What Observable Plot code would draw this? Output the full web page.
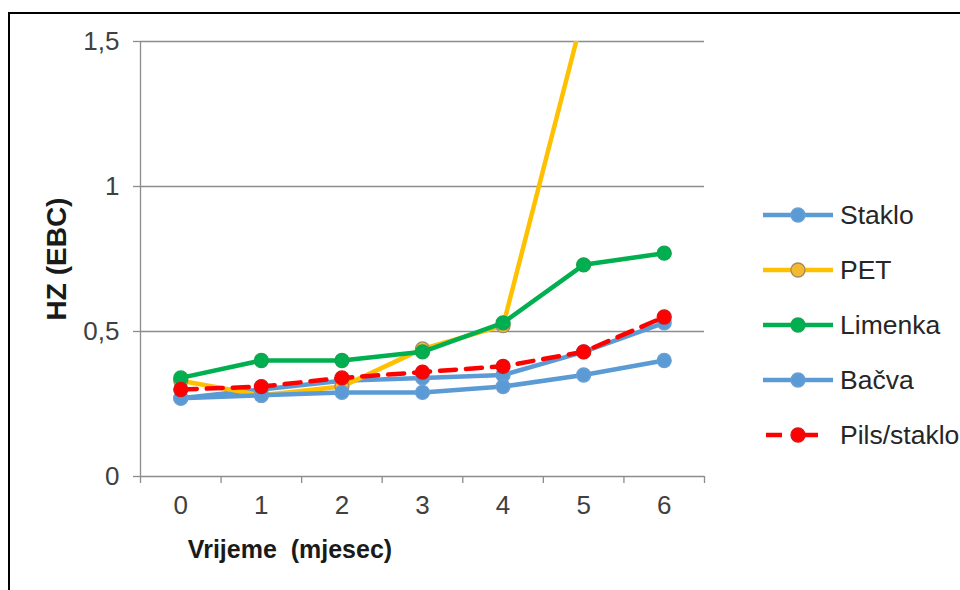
<!DOCTYPE html>
<html><head><meta charset="utf-8">
<script src="https://cdn.jsdelivr.net/npm/d3@7"></script>
<script src="https://cdn.jsdelivr.net/npm/@observablehq/plot@0.6"></script>
<style>
html,body{margin:0;padding:0;background:#fff;overflow:hidden;}
#wrap{position:relative;width:960px;height:590px;overflow:hidden;font-family:"Liberation Sans",Arial,sans-serif;background:#fff;}
#frame{position:absolute;left:8px;top:12px;width:990px;height:620px;border:2px solid #000;box-sizing:border-box;pointer-events:none;}
#chart{position:absolute;left:0;top:0;}
.title{position:absolute;font-weight:bold;color:#1a1a1a;white-space:pre;}
#ytitle{left:57px;top:259px;font-size:28px;transform:translate(-50%,-50%) rotate(-90deg);}
#xtitle{left:290px;top:549px;font-size:25px;transform:translate(-50%,-50%);}
#legend{position:absolute;left:763px;top:0;}
.item{position:absolute;left:0;height:30px;display:flex;align-items:center;white-space:nowrap;font-size:26.5px;color:#262626;}
.item svg{margin-right:7px;}
</style></head>
<body><div id="wrap"><div id="chart"></div><div class="title" id="ytitle">HZ (EBC)</div><div class="title" id="xtitle">Vrijeme  (mjesec)</div><div id="legend"></div><div id="frame"></div></div>
<script>
// ---- data ----
const months = [0, 1, 2, 3, 4, 5, 6];
const seriesNames = ["Staklo", "PET", "Limenka", "Bačva", "Pils/staklo"];
const staklo  = [0.27, 0.30, 0.33, 0.34, 0.35, 0.43, 0.53];
const pet     = [0.33, 0.28, 0.31, 0.44, 0.52, 1.60, 2.10];
const limenka = [0.34, 0.40, 0.40, 0.43, 0.53, 0.73, 0.77];
const bacva   = [0.27, 0.28, 0.29, 0.29, 0.31, 0.35, 0.40];
const pils    = [0.30, 0.31, 0.34, 0.36, 0.38, 0.43, 0.55];
const yTicks = [0, 0.5, 1, 1.5];

// ---- styles ----
const lineColors   = ["#5B9BD5", "#FFC000", "#00B050", "#5B9BD5", "#FF0000"];
const markerFill   = ["#5B9BD5", "#F5B92E", "#00B050", "#5B9BD5", "#FF0000"];
const markerStroke = ["#6A9FD3", "#A08A6A", "#14A34E", "#6A9FD3", "#E01010"];
const dashes       = [null, null, null, null, "16,10"];
const seriesValues = [staklo, pet, limenka, bacva, pils];

const series = seriesNames.map((name, i) => ({
  name,
  rows: months.map((m, j) => ({month: m, value: seriesValues[i][j]})),
  line: lineColors[i], fill: markerFill[i], stroke: markerStroke[i], dash: dashes[i]
}));

const boundaries = months.map(m => m - 0.5).concat([months[months.length - 1] + 0.5]);
const gridLines = yTicks.filter(t => t > 0);
const fmt = d => String(d).replace(".", ",");

const marks = [
  Plot.ruleY(gridLines, {stroke: "#8c8c8c", strokeWidth: 1.3}),
  Plot.ruleY([0], {stroke: "#8c8c8c", strokeWidth: 1.3}),
  Plot.ruleX([boundaries[0]], {stroke: "#8c8c8c", strokeWidth: 1.3}),
  Plot.axisY({ticks: yTicks, tickSize: 7, tickPadding: 14, tickFormat: fmt, stroke: "#8c8c8c", strokeWidth: 1.3, label: null}),
  Plot.axisX({ticks: boundaries, tickSize: 7, tickFormat: () => "", stroke: "#8c8c8c", strokeWidth: 1.3, label: null}),
  Plot.axisX({ticks: months, tickSize: 0, tickPadding: 19, tickFormat: d => String(d), label: null})
];
for (const s of series) {
  marks.push(Plot.line(s.rows, {x: "month", y: "value", stroke: s.line, strokeWidth: 4.5, strokeDasharray: s.dash, clip: true}));
  marks.push(Plot.dot(s.rows, {x: "month", y: "value", r: 7, fill: s.fill, stroke: s.stroke, strokeWidth: 1.3, clip: true}));
}

const chart = Plot.plot({
  width: 960, height: 590,
  marginLeft: 140, marginRight: 256, marginTop: 41, marginBottom: 114,
  x: {domain: [boundaries[0], boundaries[boundaries.length - 1]], axis: null},
  y: {domain: [0, 1.5], axis: null},
  style: {fontSize: "26px", fontFamily: "'Liberation Sans', Arial, sans-serif", color: "#404040", background: "transparent", overflow: "visible"},
  marks
});
document.getElementById("chart").appendChild(chart);

// ---- legend ----
const legend = document.getElementById("legend");
const rowCenters = [215, 270, 325, 380, 435];
series.forEach((s, i) => {
  const div = document.createElement("div");
  div.className = "item";
  div.style.top = (rowCenters[i] - 15) + "px";
  const dashAttr = s.dash ? 'stroke-dasharray="16,20" stroke-dashoffset="-3"' : "";
  div.innerHTML = `<svg width="70" height="30"><line x1="0" y1="15" x2="70" y2="15" stroke="${s.line}" stroke-width="4.5" ${dashAttr}/><circle cx="35" cy="15" r="7" fill="${s.fill}" stroke="${s.stroke}" stroke-width="1.3"/></svg><span>${s.name}</span>`;
  legend.appendChild(div);
});
</script>
</body></html>
